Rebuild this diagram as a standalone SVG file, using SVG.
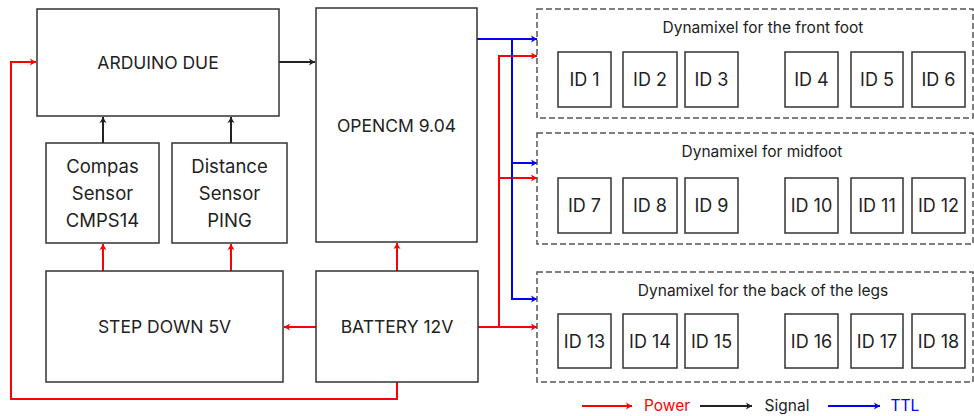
<svg xmlns="http://www.w3.org/2000/svg" width="974" height="416" viewBox="0 0 974 416">
<defs>
<marker id="ar" markerWidth="8" markerHeight="8" refX="7" refY="4" orient="auto" markerUnits="userSpaceOnUse"><path d="M1,0.5 L7,4 L1,7.5 L2.5,4 Z" fill="#ff0000"/></marker>
<marker id="ab" markerWidth="8" markerHeight="8" refX="7" refY="4" orient="auto" markerUnits="userSpaceOnUse"><path d="M1,0.5 L7,4 L1,7.5 L2.5,4 Z" fill="#0000ff"/></marker>
<marker id="ak" markerWidth="8" markerHeight="8" refX="7" refY="4" orient="auto" markerUnits="userSpaceOnUse"><path d="M1,0.5 L7,4 L1,7.5 L2.5,4 Z" fill="#222"/></marker>
</defs>
<style>
.box{fill:#fff;stroke:#333;stroke-width:1.5}
.grp{fill:#fff;stroke:#555;stroke-width:1.5;stroke-dasharray:6 3}
.t{font-family:Inter,"Open Sans",sans-serif;fill:#222;text-anchor:middle}
.big{font-size:17.5px}
.mid{font-size:18.5px}
.id{font-size:18px}
.ttl{font-size:15.5px}
.r{stroke:#ff0000;stroke-width:2;fill:none}
.b{stroke:#0000ff;stroke-width:2;fill:none}
.k{stroke:#222;stroke-width:2;fill:none}
</style>
<rect width="974" height="416" fill="#fff"/>
<g id="connectors">
<path class="k" d="M279,62 H315" marker-end="url(#ak)"/>
<path class="k" d="M103,143 V117" marker-end="url(#ak)"/>
<path class="k" d="M231,143 V117" marker-end="url(#ak)"/>
<path class="r" d="M103,271 V244" marker-end="url(#ar)"/>
<path class="r" d="M231,271 V244" marker-end="url(#ar)"/>
<path class="r" d="M397,271 V243" marker-end="url(#ar)"/>
<path class="r" d="M316,327 H284" marker-end="url(#ar)"/>
<path class="r" d="M397,382 V399 H11 V62 H36" marker-end="url(#ar)"/>
<path class="r" d="M478,327 H537" marker-end="url(#ar)"/>
<path class="r" d="M499,327 V56 H537" marker-end="url(#ar)"/>
<path class="r" d="M499,178 H537" marker-end="url(#ar)"/>
<path class="b" d="M477,39 H537" marker-end="url(#ab)"/>
<path class="b" d="M512,39 V299 H537" marker-end="url(#ab)"/>
<path class="b" d="M512,163 H537" marker-end="url(#ab)"/>
</g>
<g id="arduino"><rect class="box" x="37" y="9" width="242" height="107"/><text class="t big" x="158" y="69">ARDUINO DUE</text></g>
<g id="compas"><rect class="box" x="46" y="143" width="113" height="100"/><text class="t mid" x="102.5" y="173">Compas</text><text class="t mid" x="102.5" y="200">Sensor</text><text class="t mid" x="102.5" y="227">CMPS14</text></g>
<g id="distance"><rect class="box" x="172" y="143" width="115" height="100"/><text class="t mid" x="229.5" y="173">Distance</text><text class="t mid" x="229.5" y="200">Sensor</text><text class="t mid" x="229.5" y="227">PING</text></g>
<g id="opencm"><rect class="box" x="316" y="8" width="161" height="234"/><text class="t big" x="396.5" y="132">OPENCM 9.04</text></g>
<g id="stepdown"><rect class="box" x="46" y="271" width="237" height="111"/><text class="t big" x="164.5" y="333">STEP DOWN 5V</text></g>
<g id="battery"><rect class="box" x="316" y="271" width="162" height="111"/><text class="t big" x="397" y="333">BATTERY 12V</text></g>
<g id="front">
<rect class="grp" x="537" y="9" width="436" height="109"/>
<text class="t ttl" x="763" y="33">Dynamixel for the front foot</text>
<rect class="box" x="558" y="52" width="53" height="55"/><text class="t id" x="584.5" y="86">ID 1</text>
<rect class="box" x="623" y="52" width="54" height="55"/><text class="t id" x="650" y="86">ID 2</text>
<rect class="box" x="685" y="52" width="53" height="55"/><text class="t id" x="711.5" y="86">ID 3</text>
<rect class="box" x="785" y="52" width="53" height="55"/><text class="t id" x="811.5" y="86">ID 4</text>
<rect class="box" x="851" y="52" width="52" height="55"/><text class="t id" x="877" y="86">ID 5</text>
<rect class="box" x="912" y="52" width="53" height="55"/><text class="t id" x="938.5" y="86">ID 6</text>
</g>
<g id="midfoot">
<rect class="grp" x="537" y="133" width="436" height="111"/>
<text class="t ttl" x="762" y="157">Dynamixel for midfoot</text>
<rect class="box" x="558" y="178" width="53" height="55"/><text class="t id" x="584.5" y="212">ID 7</text>
<rect class="box" x="623" y="178" width="54" height="55"/><text class="t id" x="650" y="212">ID 8</text>
<rect class="box" x="685" y="178" width="53" height="55"/><text class="t id" x="711.5" y="212">ID 9</text>
<rect class="box" x="785" y="178" width="53" height="55"/><text class="t id" x="811.5" y="212">ID 10</text>
<rect class="box" x="851" y="178" width="52" height="55"/><text class="t id" x="877" y="212">ID 11</text>
<rect class="box" x="912" y="178" width="53" height="55"/><text class="t id" x="938.5" y="212">ID 12</text>
</g>
<g id="back">
<rect class="grp" x="537" y="272" width="436" height="110"/>
<text class="t ttl" x="763" y="296">Dynamixel for the back of the legs</text>
<rect class="box" x="558" y="314" width="53" height="54"/><text class="t id" x="584.5" y="348">ID 13</text>
<rect class="box" x="623" y="314" width="54" height="54"/><text class="t id" x="650" y="348">ID 14</text>
<rect class="box" x="685" y="314" width="53" height="54"/><text class="t id" x="711.5" y="348">ID 15</text>
<rect class="box" x="785" y="314" width="53" height="54"/><text class="t id" x="811.5" y="348">ID 16</text>
<rect class="box" x="851" y="314" width="52" height="54"/><text class="t id" x="877" y="348">ID 17</text>
<rect class="box" x="912" y="314" width="53" height="54"/><text class="t id" x="938.5" y="348">ID 18</text>
</g>
<g id="legend">
<path class="r" d="M582,406 H632" marker-end="url(#ar)"/>
<text class="t ttl" x="667" y="411" style="fill:#ff0000">Power</text>
<path class="k" d="M700,406 H752" marker-end="url(#ak)"/>
<text class="t ttl" x="787" y="411">Signal</text>
<path class="b" d="M828,406 H880" marker-end="url(#ab)"/>
<text class="t ttl" x="905" y="411" style="fill:#0000ff">TTL</text>
</g>
</svg>
